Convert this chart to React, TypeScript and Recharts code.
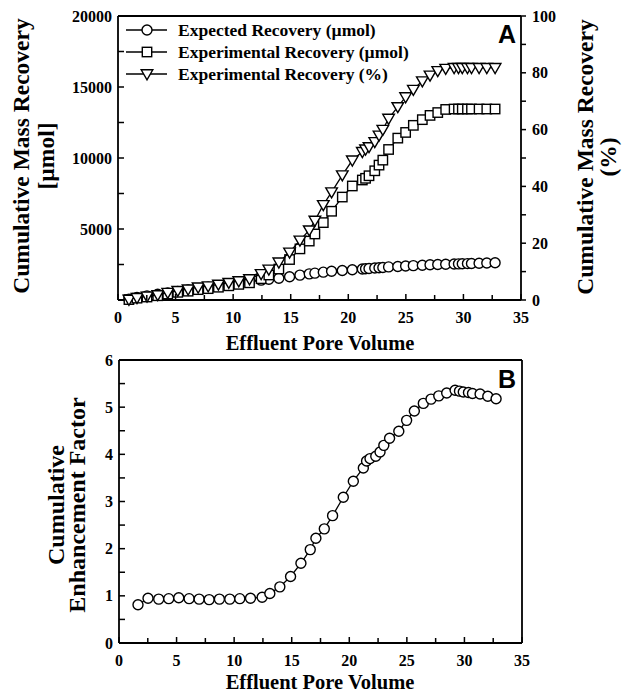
import React from 'react';
import { ScatterChart, Scatter, XAxis, YAxis, ReferenceLine, Legend } from 'recharts';

// Panel A: cumulative mass recovery vs effluent pore volume
const poreVolumeA = [
  0.95, 1.65, 2.52, 3.45, 4.32, 5.19, 6.09, 6.96, 7.83, 8.72, 9.62, 10.49, 11.42, 12.43,
  13.1, 13.97, 14.9, 15.8, 16.61, 17.1, 17.83, 18.55, 19.48, 20.35, 21.22, 21.5, 21.8,
  22.3, 22.67, 23.0, 23.5, 24.3, 24.98, 25.65, 26.43, 27.1, 27.77, 28.46, 29.19, 29.57,
  29.9, 30.35, 30.7, 31.36, 32.03, 32.75,
];
const expectedRecovery = [
  60, 180, 290, 400, 500, 610, 700, 800, 900, 1000, 1100, 1200, 1300, 1400,
  1460, 1530, 1640, 1750, 1840, 1890, 1960, 2020, 2080, 2130, 2180, 2200, 2220,
  2250, 2270, 2290, 2330, 2360, 2390, 2420, 2450, 2480, 2500, 2520, 2535, 2545,
  2555, 2565, 2575, 2590, 2605, 2620,
];
const experimentalRecovery = [
  30, 130, 210, 300, 420, 540, 620, 730, 800, 900, 1000, 1100, 1210, 1500,
  1760, 2180, 2850, 3600, 4150, 4650, 5450, 6250, 7250, 8030, 8450, 8570, 8750,
  9100, 9500, 9850, 10600, 11400, 11800, 12300, 12700, 13000, 13200, 13420, 13450, 13450,
  13450, 13450, 13450, 13450, 13450, 13450,
];
const experimentalPercent = [
  0.2, 0.8, 1.3, 1.8, 2.6, 3.3, 3.8, 4.5, 4.9, 5.5, 6.1, 6.7, 7.4, 9.2,
  10.8, 13.3, 16.8, 21.0, 24.6, 28.0, 33.5, 38.0, 44.0, 49.2, 52.2, 53.1, 53.9,
  55.7, 58.0, 60.0, 63.9, 68.0, 71.5, 74.1, 77.1, 79.1, 80.7, 81.5, 81.8, 81.8,
  81.8, 81.8, 81.8, 81.8, 81.8, 81.8,
];

// Panel B: cumulative enhancement factor
const poreVolumeB = [
  1.65, 2.52, 3.45, 4.32, 5.19, 6.09, 6.96, 7.83, 8.72, 9.62, 10.49, 11.42, 12.43,
  13.1, 13.97, 14.9, 15.8, 16.61, 17.1, 17.83, 18.55, 19.48, 20.35, 21.22, 21.5, 21.8,
  22.3, 22.67, 23.0, 23.5, 24.3, 24.98, 25.65, 26.43, 27.1, 27.77, 28.46, 29.19, 29.57,
  29.9, 30.35, 30.7, 31.36, 32.03, 32.75,
];
const enhancementFactor = [
  0.81, 0.95, 0.93, 0.94, 0.96, 0.94, 0.93, 0.92, 0.93, 0.93, 0.94, 0.95, 0.97,
  1.05, 1.19, 1.41, 1.69, 1.98, 2.22, 2.42, 2.70, 3.09, 3.43, 3.71, 3.86, 3.91,
  3.96, 4.05, 4.19, 4.34, 4.49, 4.72, 4.92, 5.08, 5.17, 5.24, 5.30, 5.36, 5.34,
  5.32, 5.31, 5.29, 5.28, 5.23, 5.18,
];

const xTicks = [0, 2.5, 5, 7.5, 10, 12.5, 15, 17.5, 20, 22.5, 25, 27.5, 30, 32.5, 35];
const xLabels = [0, 5, 10, 15, 20, 25, 30, 35];
const molTicks = [0, 2500, 5000, 7500, 10000, 12500, 15000, 17500, 20000];
const molLabels = [5000, 10000, 15000, 20000];
const pctTicks = [0, 10, 20, 30, 40, 50, 60, 70, 80, 90, 100];
const pctLabels = [0, 20, 40, 60, 80, 100];
const factorTicks = [0, 0.5, 1, 1.5, 2, 2.5, 3, 3.5, 4, 4.5, 5, 5.5, 6];
const factorLabels = [0, 1, 2, 3, 4, 5, 6];

const legendLabels = [
  'Expected Recovery (\u00b5mol)',
  'Experimental Recovery (\u00b5mol)',
  'Experimental Recovery (%)',
];

const expectedData = poreVolumeA.map((x, i) => ({ x, y: expectedRecovery[i] }));
const experimentalData = poreVolumeA.map((x, i) => ({ x, y: experimentalRecovery[i] }));
const percentData = poreVolumeA.map((x, i) => ({ x, y: experimentalPercent[i] }));
const factorData = poreVolumeB.map((x, i) => ({ x, y: enhancementFactor[i] }));

const SERIF = '"Liberation Serif", "Times New Roman", serif';
const SANS = '"Liberation Sans", Arial, sans-serif';
const INK = '#000';
const AXIS_W = 1.8;
const MARK_W = 1.4;

const tickText = {
  fontFamily: SERIF,
  fontWeight: 700,
  fontSize: 16,
  fill: INK,
} as const;

// Markers
const CircleMark = (p: any) => (
  <circle cx={p.cx} cy={p.cy} r={5} fill="#fff" stroke={INK} strokeWidth={MARK_W} />
);
const SquareMark = (p: any) => (
  <rect x={p.cx - 4.7} y={p.cy - 4.7} width={9.4} height={9.4} fill="#fff" stroke={INK} strokeWidth={MARK_W} />
);
const TriangleMark = (p: any) => (
  <path
    d={`M${p.cx - 5.8},${p.cy - 4.2} L${p.cx + 5.8},${p.cy - 4.2} L${p.cx},${p.cy + 5.8} Z`}
    fill="#fff"
    stroke={INK}
    strokeWidth={MARK_W}
    strokeLinejoin="miter"
  />
);

// Tick renderers: ticks point into the plot on bottom/left axes, out on the right axis
const makeXTick = (labels: number[]) => (p: any) => {
  const v = p.payload.value;
  const major = labels.includes(v);
  return (
    <g>
      <line x1={p.x} x2={p.x} y1={p.y} y2={p.y - (major ? 6 : 5)} stroke={INK} strokeWidth={1.5} />
      {major && (
        <text x={p.x} y={p.y + 17.5} textAnchor="middle" dominantBaseline="central" {...tickText}>
          {v}
        </text>
      )}
    </g>
  );
};

const makeLeftTick = (labels: number[]) => (p: any) => {
  const v = p.payload.value;
  return (
    <g>
      <line x1={p.x} x2={p.x + 6} y1={p.y} y2={p.y} stroke={INK} strokeWidth={1.5} />
      {labels.includes(v) && (
        <text x={p.x - 6} y={p.y} textAnchor="end" dominantBaseline="central" {...tickText}>
          {v}
        </text>
      )}
    </g>
  );
};

const RightTick = (p: any) => {
  const v = p.payload.value;
  return (
    <g>
      <line x1={p.x} x2={p.x + 5} y1={p.y} y2={p.y} stroke={INK} strokeWidth={1.5} />
      {pctLabels.includes(v) && (
        <text x={p.x + 11} y={p.y} textAnchor="start" dominantBaseline="central" {...tickText}>
          {v}
        </text>
      )}
    </g>
  );
};

const legendMarks = [CircleMark, SquareMark, TriangleMark];

const renderLegend = () => (
  <svg width={340} height={70}>
    {legendLabels.map((label, i) => {
      const y = 10 + i * 22;
      const Mark = legendMarks[i];
      return (
        <g key={label}>
          <line x1={6} x2={47} y1={y} y2={y} stroke={INK} strokeWidth={1.5} />
          <Mark cx={27} cy={y} />
          <text x={58} y={y} dominantBaseline="central" fontFamily={SERIF} fontWeight={700} fontSize={17.5} fill={INK}>
            {label}
          </text>
        </g>
      );
    })}
  </svg>
);

const axisLine = { stroke: INK, strokeWidth: AXIS_W };
const seriesLine = { stroke: INK, strokeWidth: 1.3 };

const VerticalTitle = ({
  lines,
  cx,
  cy,
  lineHeight,
  fontSize,
}: {
  lines: string[];
  cx: number;
  cy: number;
  lineHeight: number;
  fontSize: number;
}) => (
  <div
    style={{
      position: 'absolute',
      left: cx,
      top: cy,
      transform: 'translate(-50%, -50%) rotate(-90deg)',
      whiteSpace: 'nowrap',
      textAlign: 'center',
      fontFamily: SERIF,
      fontWeight: 700,
      fontSize,
      lineHeight: `${lineHeight}px`,
      color: INK,
    }}
  >
    {lines.map((l) => (
      <div key={l}>{l}</div>
    ))}
  </div>
);

const HorizontalTitle = ({ text, cx, cy }: { text: string; cx: number; cy: number }) => (
  <div
    style={{
      position: 'absolute',
      left: cx,
      top: cy,
      transform: 'translate(-50%, -50%)',
      whiteSpace: 'nowrap',
      fontFamily: SERIF,
      fontWeight: 700,
      fontSize: 20.5,
      lineHeight: '17px',
      color: INK,
    }}
  >
    {text}
  </div>
);

const PanelTag = ({ text, left, top }: { text: string; left: number; top: number }) => (
  <div
    style={{
      position: 'absolute',
      left,
      top,
      fontFamily: SANS,
      fontWeight: 700,
      fontSize: 25,
      lineHeight: '25px',
      color: INK,
    }}
  >
    {text}
  </div>
);

export default function App() {
  return (
    <div style={{ position: 'absolute', left: 0, top: 0, width: 622, height: 694, background: '#fff', overflow: 'hidden' }}>
      <div style={{ position: 'absolute', left: 0, top: 0 }}>
        <ScatterChart width={622} height={330} margin={{ top: 16, right: 0, bottom: 0, left: 0 }}>
          <XAxis
            type="number"
            dataKey="x"
            domain={[0, 35]}
            ticks={xTicks}
            interval={0}
            height={30}
            axisLine={axisLine}
            tickLine={false}
            tickSize={0}
            tickMargin={0}
            tick={makeXTick(xLabels)}
          />
          <YAxis
            yAxisId="mol"
            type="number"
            dataKey="y"
            domain={[0, 20000]}
            ticks={molTicks}
            interval={0}
            width={118}
            axisLine={axisLine}
            tickLine={false}
            tickSize={0}
            tickMargin={0}
            tick={makeLeftTick(molLabels)}
          />
          <YAxis
            yAxisId="pct"
            orientation="right"
            type="number"
            dataKey="y"
            domain={[0, 100]}
            ticks={pctTicks}
            interval={0}
            width={101}
            axisLine={axisLine}
            tickLine={false}
            tickSize={0}
            tickMargin={0}
            tick={RightTick}
          />
          <ReferenceLine yAxisId="mol" y={20000} stroke={INK} strokeWidth={AXIS_W} />
          <Legend
            content={renderLegend}
            layout="horizontal"
            verticalAlign="middle"
            align="center"
            wrapperStyle={{ top: 20, left: 120, width: 340, height: 70 }}
          />
          <Scatter
            name={legendLabels[0]}
            data={expectedData}
            yAxisId="mol"
            shape={CircleMark}
            line={seriesLine}
            isAnimationActive={false}
          />
          <Scatter
            name={legendLabels[1]}
            data={experimentalData}
            yAxisId="mol"
            shape={SquareMark}
            line={seriesLine}
            isAnimationActive={false}
          />
          <Scatter
            name={legendLabels[2]}
            data={percentData}
            yAxisId="pct"
            shape={TriangleMark}
            line={seriesLine}
            isAnimationActive={false}
          />
        </ScatterChart>
      </div>

      <div style={{ position: 'absolute', left: 0, top: 340 }}>
        <ScatterChart width={622} height={354} margin={{ top: 20, right: 100, bottom: 0, left: 0 }}>
          <XAxis
            type="number"
            dataKey="x"
            domain={[0, 35]}
            ticks={xTicks}
            interval={0}
            height={51}
            axisLine={axisLine}
            tickLine={false}
            tickSize={0}
            tickMargin={0}
            tick={makeXTick(xLabels)}
          />
          <YAxis
            type="number"
            dataKey="y"
            domain={[0, 6]}
            ticks={factorTicks}
            interval={0}
            width={119}
            axisLine={axisLine}
            tickLine={false}
            tickSize={0}
            tickMargin={0}
            tick={makeLeftTick(factorLabels)}
          />
          <ReferenceLine y={6} stroke={INK} strokeWidth={AXIS_W} />
          <ReferenceLine x={35} stroke={INK} strokeWidth={AXIS_W} />
          <Scatter
            data={factorData}
            shape={CircleMark}
            line={seriesLine}
            isAnimationActive={false}
          />
        </ScatterChart>
      </div>

      <VerticalTitle lines={['Cumulative Mass Recovery', '[\u00b5mol]']} cx={34} cy={156} lineHeight={25} fontSize={23.5} />
      <VerticalTitle lines={['Cumulative Mass Recovery', '(%)']} cx={597} cy={157} lineHeight={23} fontSize={23.5} />
      <VerticalTitle lines={['Cumulative', 'Enhancement Factor']} cx={67} cy={505} lineHeight={21} fontSize={24} />
      <HorizontalTitle text="Effluent Pore Volume" cx={320} cy={343} />
      <HorizontalTitle text="Effluent Pore Volume" cx={320} cy={682} />
      <PanelTag text="A" left={498} top={22} />
      <PanelTag text="B" left={498} top={367} />
    </div>
  );
}
